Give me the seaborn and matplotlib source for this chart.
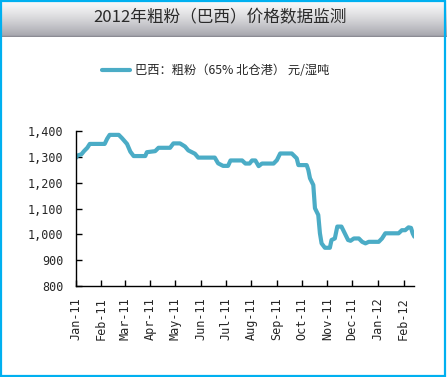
import numpy as np
import pandas as pd
import matplotlib
matplotlib.use("Agg")
import matplotlib.pyplot as plt
import matplotlib.dates as mdates
from matplotlib.ticker import FuncFormatter
from matplotlib.patches import Rectangle
import seaborn as sns

title = "2012年粗粉（巴西）价格数据监测"
series_name = "巴西：粗粉（65% 北仓港） 元/湿吨"

dates = [
    "2011-01-01", "2011-01-03", "2011-01-08", "2011-01-11", "2011-01-15", "2011-01-18",
    "2011-02-05", "2011-02-08", "2011-02-11", "2011-02-22", "2011-02-26",
    "2011-03-04", "2011-03-08", "2011-03-12", "2011-03-26", "2011-03-28",
    "2011-04-07", "2011-04-11", "2011-04-25", "2011-04-29",
    "2011-05-07", "2011-05-13", "2011-05-17", "2011-05-25", "2011-05-29",
    "2011-06-18", "2011-06-22", "2011-06-28",
    "2011-07-04", "2011-07-07", "2011-07-21", "2011-07-25", "2011-07-30",
    "2011-08-02", "2011-08-06", "2011-08-10", "2011-08-14", "2011-08-28",
    "2011-09-01", "2011-09-05", "2011-09-19", "2011-09-25", "2011-09-27",
    "2011-10-07", "2011-10-09", "2011-10-11", "2011-10-15", "2011-10-17",
    "2011-10-21", "2011-10-23", "2011-10-25", "2011-10-29",
    "2011-11-04", "2011-11-06", "2011-11-10", "2011-11-13", "2011-11-18",
    "2011-11-22", "2011-11-26", "2011-11-29",
    "2011-12-03", "2011-12-09", "2011-12-13", "2011-12-17", "2011-12-21",
    "2012-01-02", "2012-01-06", "2012-01-10", "2012-01-26", "2012-01-30",
    "2012-02-03", "2012-02-07", "2012-02-10", "2012-02-12", "2012-02-14",
]
prices = [
    1295, 1305, 1310, 1322, 1335, 1350,
    1350, 1370, 1385, 1385, 1372,
    1350, 1320, 1303, 1303, 1318,
    1322, 1335, 1335, 1352,
    1352, 1340, 1325, 1312, 1297,
    1297, 1275, 1265,
    1265, 1286, 1286, 1274, 1274,
    1286, 1286, 1264, 1274, 1274,
    1287, 1313, 1313, 1294, 1268,
    1268, 1249, 1217, 1191, 1101,
    1075, 1004, 965, 948,
    948, 978, 984, 1030, 1030,
    1004, 978, 975,
    984, 984, 971, 965, 971,
    971, 984, 1004, 1004, 1016,
    1016, 1027, 1025, 1004, 991,
]
y_ticks = [800, 900, 1000, 1100, 1200, 1300, 1400]

df = pd.DataFrame({"date": pd.to_datetime(dates), "price": prices})

sns.set_theme(style="white")
plt.rcParams["font.family"] = ["Noto Sans CJK SC", "DejaVu Sans"]

W, H = 447, 377
fig = plt.figure(figsize=(W / 100, H / 100), dpi=100)
fig.patch.set_facecolor("white")

# title bar gradient
bar = fig.add_axes([0, 1 - 37 / H, 1, 36 / H])
grad = np.linspace(0, 1, 64)
c_top = np.array([0.975, 0.975, 0.975])
c_bot = np.array([0.64, 0.64, 0.67])
img = c_top[None, :] * (1 - grad[:, None] ** 1.3) + c_bot[None, :] * (grad[:, None] ** 1.3)
img = np.repeat(img[:, None, :], 4, axis=1)
bar.imshow(img, aspect="auto", extent=[0, 1, 0, 1])
bar.axhline(0.04, color="#8c8c94", lw=1.0)
bar.set_axis_off()
fig.text(0.492, 0.952, title, ha="center", va="center", fontsize=12, color="#2a2a2a")

ax = fig.add_axes([75.7 / W, 1 - 286 / H, (414.3 - 75.7) / W, (286 - 131) / H])
sns.lineplot(data=df, x="date", y="price", ax=ax, color="#4BACC6", lw=3.0, label=series_name)

ax.set_ylim(800, 1400)
ax.set_yticks(y_ticks)
ax.yaxis.set_major_formatter(FuncFormatter(lambda v, p: f"{int(v):,}"))
ax.set_xlim(pd.Timestamp("2011-01-01"), pd.Timestamp("2012-02-14"))
ax.xaxis.set_major_locator(mdates.MonthLocator())
ax.xaxis.set_major_formatter(mdates.DateFormatter("%b-%y"))
ax.set_xlabel("")
ax.set_ylabel("")
for s in ["top", "right"]:
    ax.spines[s].set_visible(False)
for s in ["left", "bottom"]:
    ax.spines[s].set_color("black")
    ax.spines[s].set_linewidth(1.0)
ax.tick_params(axis="both", direction="in", length=4, width=1, color="black")
ax.tick_params(axis="y", left=True, pad=9)
ax.tick_params(axis="x", bottom=True, pad=8)
for lab in ax.get_yticklabels():
    lab.set_fontfamily("DejaVu Sans Mono")
    lab.set_fontsize(8.5)
for lab in ax.get_xticklabels():
    lab.set_fontfamily("DejaVu Sans Mono")
    lab.set_fontsize(8.5)
    lab.set_rotation(90)
    lab.set_va("top")
    lab.set_ha("center")
ax.patch.set_alpha(0)

leg = ax.legend(loc="center", bbox_to_anchor=(0.482, 0.812), bbox_transform=fig.transFigure,
                frameon=False, fontsize=8.8, handlelength=2.3, handletextpad=0.4)

# outer border
fig.patches.append(Rectangle((0.002, 0.003), 0.994, 0.994, transform=fig.transFigure,
                             fill=False, edgecolor="#00b0f0", lw=1.6))

fig.savefig("out.png", dpi=100)
